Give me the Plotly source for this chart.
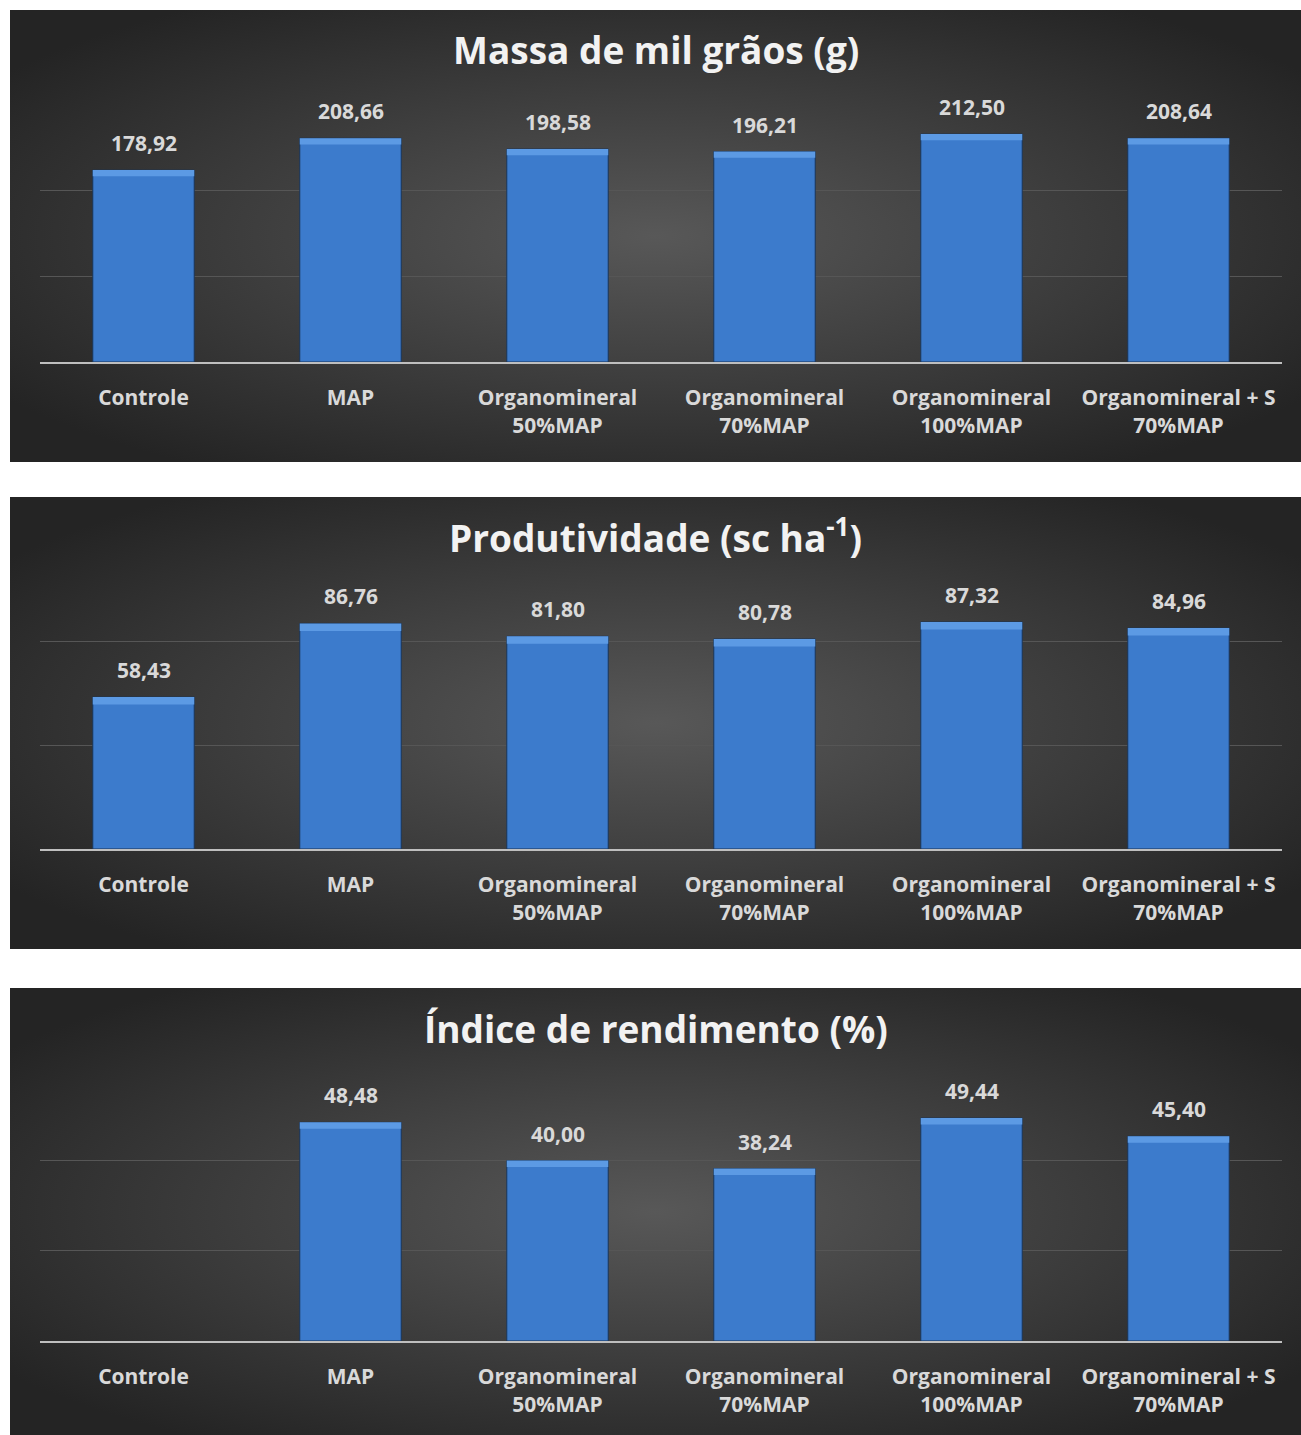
import base64
import plotly.graph_objects as go

categories = ["Controle", "MAP", "Organomineral<br>50%MAP", "Organomineral<br>70%MAP",
              "Organomineral<br>100%MAP", "Organomineral + S<br>70%MAP"]
massa = [178.92, 208.66, 198.58, 196.21, 212.50, 208.64]
produtividade = [58.43, 86.76, 81.80, 80.78, 87.32, 84.96]
indice = [None, 48.48, 40.00, 38.24, 49.44, 45.40]

titles = ["Massa de mil grãos (g)", "Produtividade (sc ha<sup>-1</sup>)", "Índice de rendimento (%)"]
ranges = [[0, 240], [0, 120], [0, 60]]
grid_vals = [[80, 160], [40, 80], [20, 40]]

H = 1435.0
W = 1301.0
def py(px):
    return 1 - px / H

panels = [(10, 462), (497, 949), (988, 1435)]
plot_areas = [(104.6, 362), (537, 849), (1070.4, 1341)]
title_y = [49, 536, 1028]

FONT = "Open Sans"
LABEL_COLOR = "#d9d9d9"

svg = """<svg xmlns='http://www.w3.org/2000/svg' width='1291' height='452' viewBox='0 0 1291 452' preserveAspectRatio='none'>
<defs><radialGradient id='g' cx='50%' cy='50%' r='62%' fx='50%' fy='50%'>
<stop offset='0%' stop-color='#585858'/><stop offset='100%' stop-color='#242424'/></radialGradient></defs>
<rect x='0' y='0' width='1291' height='452' fill='url(#g)'/></svg>"""
svg_uri = "data:image/svg+xml;base64," + base64.b64encode(svg.encode()).decode()

fig = go.Figure()
series = [massa, produtividade, indice]
layout = dict(
    width=1301, height=1435,
    margin=dict(l=0, r=0, t=0, b=0),
    paper_bgcolor="white", plot_bgcolor="rgba(0,0,0,0)",
    showlegend=False, bargap=0.51, barmode="overlay",
    font=dict(family=FONT, color=LABEL_COLOR),
)
images = []
annotations = []
for i, vals in enumerate(series):
    xa = "x" if i == 0 else f"x{i+1}"
    ya = "y" if i == 0 else f"y{i+1}"
    strip = ranges[i][1] * 0.024
    fig.add_trace(go.Bar(
        x=categories, y=vals, xaxis=xa, yaxis=ya,
        marker=dict(color="#3c7bcc", line=dict(color="#1b3557", width=1)),
        hoverinfo="skip", opacity=1,
    ))
    # top bevel highlight derived from data
    fig.add_trace(go.Bar(
        x=categories,
        y=[strip if v is not None else None for v in vals],
        base=[(v - strip) if v is not None else None for v in vals],
        xaxis=xa, yaxis=ya,
        marker=dict(color="#5c9ae4", line=dict(width=0)),
        hoverinfo="skip", opacity=1,
    ))
    top, bot = plot_areas[i]
    xkey = "xaxis" if i == 0 else f"xaxis{i+1}"
    ykey = "yaxis" if i == 0 else f"yaxis{i+1}"
    layout[xkey] = dict(
        domain=[40 / W, 1282 / W], anchor=ya,
        showgrid=False, showline=True, linecolor="#bfbfbf", linewidth=2,
        ticks="", tickfont=dict(size=21, family=FONT, color=LABEL_COLOR, weight="bold"),
        ticklabelstandoff=16, fixedrange=True,
    )
    layout[ykey] = dict(
        domain=[py(bot), py(top)], anchor=xa, range=ranges[i],
        showticklabels=False, ticks="", tickvals=grid_vals[i],
        showgrid=True, gridcolor="#565656", gridwidth=1, zeroline=False,
        fixedrange=True,
    )
    ptop, pbot = panels[i]
    images.append(dict(
        source=svg_uri, xref="paper", yref="paper",
        x=10 / W, y=py(ptop), sizex=1 - 10 / W, sizey=(pbot - ptop) / H,
        xanchor="left", yanchor="top", sizing="stretch", layer="below",
    ))
    annotations.append(dict(
        text=titles[i], xref="paper", yref="paper", x=(10 + 1301) / 2 / W, y=py(title_y[i]),
        xanchor="center", yanchor="middle", showarrow=False,
        font=dict(size=37, family=FONT, color="#f2f2f2", weight="bold"),
    ))
    for c, v in zip(categories, vals):
        if v is None:
            continue
        annotations.append(dict(
            text=f"{v:.2f}".replace(".", ","), x=c, y=v, xref=xa, yref=ya,
            xanchor="center", yanchor="middle", yshift=27, showarrow=False,
            font=dict(size=21, family=FONT, color=LABEL_COLOR, weight="bold"),
        ))

layout["images"] = images
layout["annotations"] = annotations
fig.update_layout(**layout)
fig.write_html("out.html")
